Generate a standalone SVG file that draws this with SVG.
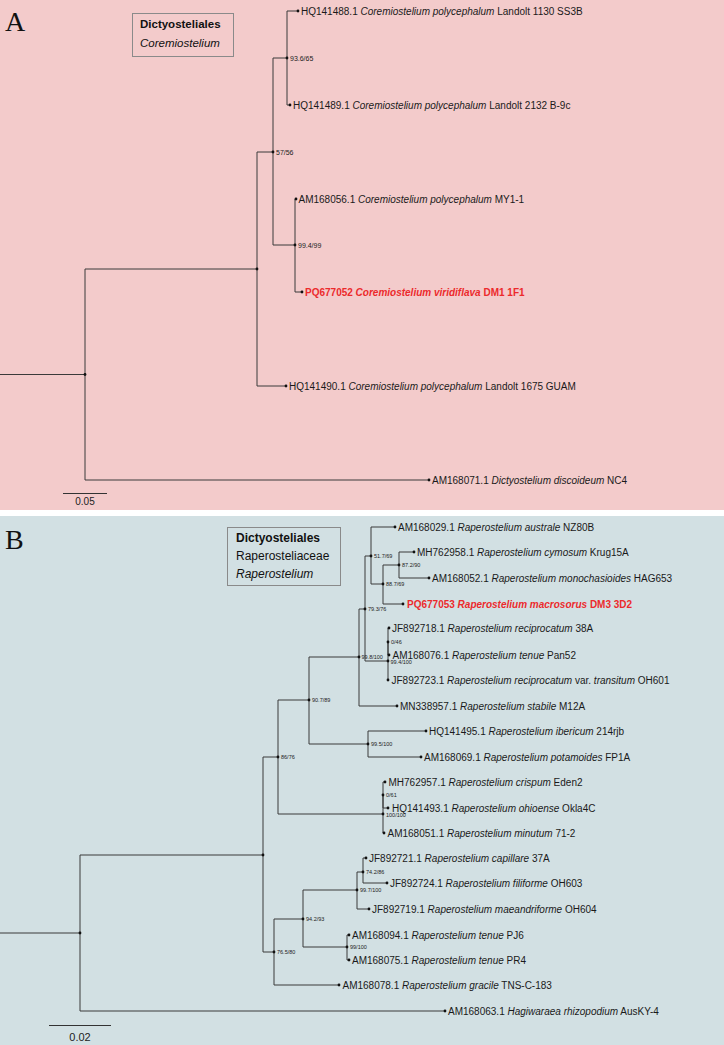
<svg xmlns="http://www.w3.org/2000/svg" width="724" height="1045" viewBox="0 0 724 1045">
<style>
.conn path{fill:none;stroke:#3a3a3a;stroke-width:1}
.dot{fill:#111}
.tip{font-family:"Liberation Sans",Arial,sans-serif;font-size:10px;fill:#1a1a1a}
.red{fill:#ec2a2c;font-weight:bold}
.bs{font-family:"Liberation Sans",Arial,sans-serif;font-size:7px;fill:#222}
.bsb{font-family:"Liberation Sans",Arial,sans-serif;font-size:5.5px;fill:#222}
.it{font-style:italic}
.panel{font-family:"Liberation Serif","Times New Roman",serif;font-size:28px;fill:#111}
.box{stroke:#8a8a8a;stroke-width:1}
.boxt{font-family:"Liberation Sans",Arial,sans-serif;fill:#111}
.scale{fill:none;stroke:#333;stroke-width:1}
.sct{font-family:"Liberation Sans",Arial,sans-serif;fill:#222;text-anchor:middle}
</style>
<rect x="0" y="0" width="724" height="510" fill="#f3cbcb"/>
<rect x="0" y="510" width="724" height="6" fill="#ffffff"/>
<rect x="0" y="516" width="724" height="529" fill="#d2e0e3"/>

<!-- Panel A -->
<text class="panel" x="5" y="31">A</text>
<g id="legendA">
<rect class="box" x="132.5" y="13.5" width="101" height="43" fill="#f3cbcb"/>
<text class="boxt" x="140" y="28" font-size="11.5" font-weight="bold">Dictyosteliales</text>
<text class="boxt it" x="140" y="47" font-size="11.5">Coremiostelium</text>
</g>
<g id="connectorsA" class="conn">
<path d="M0 374.5 H85"/>
<path d="M85 374.5 V269 H257"/>
<path d="M85 374.5 V480 H429"/>
<path d="M257 269 V152 H273"/>
<path d="M257 269 V386 H286"/>
<path d="M273 152 V58 H287"/>
<path d="M273 152 V245 H295"/>
<path d="M287 58 V11 H298"/>
<path d="M287 58 V105 H290"/>
<path d="M295 245 V199 H296"/>
<path d="M295 245 V292 H302"/>
</g>
<g id="A_root"><circle class="dot" cx="85" cy="374.5" r="1.4"/></g>
<g id="A_n1"><circle class="dot" cx="257" cy="269" r="1.4"/></g>
<g id="A_n2"><circle class="dot" cx="273" cy="152" r="1.4"/><text class="bs" x="276" y="154.5">57/56</text></g>
<g id="A_n3"><circle class="dot" cx="287" cy="58" r="1.4"/><text class="bs" x="290" y="60.5">93.6/65</text></g>
<g id="A_n4"><circle class="dot" cx="295" cy="245" r="1.4"/><text class="bs" x="298" y="247.5">99.4/99</text></g>
<g id="A_HQ141488"><circle class="dot" cx="298" cy="11" r="1.4"/><text class="tip" x="301" y="14.5">HQ141488.1 <tspan class="it">Coremiostelium polycephalum</tspan> Landolt 1130 SS3B</text></g>
<g id="A_HQ141489"><circle class="dot" cx="290" cy="105" r="1.4"/><text class="tip" x="293" y="108.5">HQ141489.1 <tspan class="it">Coremiostelium polycephalum</tspan> Landolt 2132 B-9c</text></g>
<g id="A_AM168056"><circle class="dot" cx="296" cy="199" r="1.4"/><text class="tip" x="298.5" y="202.5">AM168056.1 <tspan class="it">Coremiostelium polycephalum</tspan> MY1-1</text></g>
<g id="A_PQ677052"><circle class="dot" cx="302" cy="292" r="1.4"/><text class="tip red" x="305" y="295.5">PQ677052 <tspan class="it">Coremiostelium viridiflava</tspan> DM1 1F1</text></g>
<g id="A_HQ141490"><circle class="dot" cx="286" cy="386" r="1.4"/><text class="tip" x="289" y="389.5">HQ141490.1 <tspan class="it">Coremiostelium polycephalum</tspan> Landolt 1675 GUAM</text></g>
<g id="A_AM168071"><circle class="dot" cx="429" cy="480" r="1.4"/><text class="tip" x="432" y="483.5">AM168071.1 <tspan class="it">Dictyostelium discoideum</tspan> NC4</text></g>
<g id="A_scale">
<path class="scale" d="M63 493.5 H107"/>
<text class="sct" x="85" y="505" font-size="10">0.05</text>
</g>

<!-- Panel B -->
<text class="panel" x="5" y="549">B</text>
<g id="legendB">
<rect class="box" x="227.5" y="527.5" width="113" height="58" fill="#d2e0e3"/>
<text class="boxt" x="236" y="542" font-size="12" font-weight="bold">Dictyosteliales</text>
<text class="boxt" x="236" y="560" font-size="12">Raperosteliaceae</text>
<text class="boxt it" x="236" y="578" font-size="12">Raperostelium</text>
</g>
<g id="connectorsB" class="conn">
<path d="M0 933 H80"/>
<path d="M80 933 V855 H263"/>
<path d="M80 933 V1011 H445"/>
<path d="M263 855 V757 H278"/>
<path d="M263 855 V952 H274"/>
<path d="M278 757 V700 H309"/>
<path d="M278 757 V814 H383"/>
<path d="M309 700 V657 H359"/>
<path d="M309 700 V744 H368"/>
<path d="M359 657 V609 H365"/>
<path d="M359 657 V706 H397"/>
<path d="M365 609 V556 H371"/>
<path d="M365 609 V661 H388"/>
<path d="M371 556 V527 H395"/>
<path d="M371 556 V584 H383"/>
<path d="M383 584 V565 H399"/>
<path d="M383 584 V604 H403"/>
<path d="M399 565 V552 H414"/>
<path d="M399 565 V578 H429"/>
<path d="M388 661 V642"/>
<path d="M388 661 V680"/>
<path d="M388 642 V628 H389"/>
<path d="M388 642 V655 H389"/>
<path d="M368 744 V731 H426"/>
<path d="M368 744 V757 H421"/>
<path d="M383 814 V795"/>
<path d="M383 814 V833 H384"/>
<path d="M383 795 V782 H385"/>
<path d="M383 795 V808 H388"/>
<path d="M274 952 V919 H303"/>
<path d="M274 952 V985 H339"/>
<path d="M303 919 V890 H357"/>
<path d="M303 919 V947 H347"/>
<path d="M357 890 V872 H363"/>
<path d="M357 890 V909 H369"/>
<path d="M363 872 V858 H366"/>
<path d="M363 872 V883 H387"/>
<path d="M347 947 V935 H349"/>
<path d="M347 947 V960 H349"/>
</g>
<g id="B_root"><circle class="dot" cx="80" cy="933" r="1.4"/></g>
<g id="B_n1"><circle class="dot" cx="263" cy="855" r="1.4"/></g>
<g id="B_n86_76"><circle class="dot" cx="278" cy="757" r="1.4"/><text class="bsb" x="281" y="759">86/76</text></g>
<g id="B_n90_7"><circle class="dot" cx="309" cy="700" r="1.4"/><text class="bsb" x="312" y="702">90.7/89</text></g>
<g id="B_n99_8"><circle class="dot" cx="359" cy="657" r="1.4"/><text class="bsb" x="361.5" y="659">99.8/100</text></g>
<g id="B_n79_3"><circle class="dot" cx="365" cy="609" r="1.4"/><text class="bsb" x="368" y="611">79.3/76</text></g>
<g id="B_n51_7"><circle class="dot" cx="371" cy="556" r="1.4"/><text class="bsb" x="374" y="558">51.7/69</text></g>
<g id="B_n88_7"><circle class="dot" cx="383" cy="584" r="1.4"/><text class="bsb" x="386" y="586">88.7/69</text></g>
<g id="B_n87_2"><circle class="dot" cx="399" cy="565" r="1.4"/><text class="bsb" x="402" y="567">87.2/90</text></g>
<g id="B_n99_4"><circle class="dot" cx="388" cy="661" r="1.4"/><text class="bsb" x="390.5" y="664">99.4/100</text></g>
<g id="B_n0_46"><circle class="dot" cx="388" cy="642" r="1.4"/><text class="bsb" x="391" y="644">0/46</text></g>
<g id="B_n99_5"><circle class="dot" cx="368" cy="744" r="1.4"/><text class="bsb" x="371" y="746">99.5/100</text></g>
<g id="B_n100_100"><circle class="dot" cx="383" cy="814" r="1.4"/><text class="bsb" x="386" y="817">100/100</text></g>
<g id="B_n0_61"><circle class="dot" cx="383" cy="795" r="1.4"/><text class="bsb" x="386" y="797">0/61</text></g>
<g id="B_n76_5"><circle class="dot" cx="274" cy="952" r="1.4"/><text class="bsb" x="277" y="954">76.5/80</text></g>
<g id="B_n94_2"><circle class="dot" cx="303" cy="919" r="1.4"/><text class="bsb" x="306" y="921">94.2/93</text></g>
<g id="B_n99_7"><circle class="dot" cx="357" cy="890" r="1.4"/><text class="bsb" x="360" y="892">99.7/100</text></g>
<g id="B_n74_2"><circle class="dot" cx="363" cy="872" r="1.4"/><text class="bsb" x="366" y="874">74.2/86</text></g>
<g id="B_n99_100"><circle class="dot" cx="347" cy="947" r="1.4"/><text class="bsb" x="350" y="949">99/100</text></g>

<g id="B_AM168029"><circle class="dot" cx="395" cy="527" r="1.4"/><text class="tip" x="398" y="530.5">AM168029.1 <tspan class="it">Raperostelium australe</tspan> NZ80B</text></g>
<g id="B_MH762958"><circle class="dot" cx="414" cy="552" r="1.4"/><text class="tip" x="417" y="555.5">MH762958.1 <tspan class="it">Raperostelium cymosum</tspan> Krug15A</text></g>
<g id="B_AM168052"><circle class="dot" cx="429" cy="578" r="1.4"/><text class="tip" x="432" y="581.5">AM168052.1 <tspan class="it">Raperostelium monochasioides</tspan> HAG653</text></g>
<g id="B_PQ677053"><circle class="dot" cx="403" cy="604" r="1.4"/><text class="tip red" x="407" y="607.5">PQ677053 <tspan class="it">Raperostelium macrosorus</tspan> DM3 3D2</text></g>
<g id="B_JF892718"><circle class="dot" cx="389" cy="628" r="1.4"/><text class="tip" x="392" y="631.5">JF892718.1 <tspan class="it">Raperostelium reciprocatum</tspan> 38A</text></g>
<g id="B_AM168076"><circle class="dot" cx="389" cy="655" r="1.4"/><text class="tip" x="392.5" y="658.5">AM168076.1 <tspan class="it">Raperostelium tenue</tspan> Pan52</text></g>
<g id="B_JF892723"><circle class="dot" cx="388" cy="680" r="1.4"/><text class="tip" x="391.5" y="683.5">JF892723.1 <tspan class="it">Raperostelium reciprocatum</tspan> var. <tspan class="it">transitum</tspan> OH601</text></g>
<g id="B_MN338957"><circle class="dot" cx="397" cy="706" r="1.4"/><text class="tip" x="400" y="709.5">MN338957.1 <tspan class="it">Raperostelium stabile</tspan> M12A</text></g>
<g id="B_HQ141495"><circle class="dot" cx="426" cy="731" r="1.4"/><text class="tip" x="429" y="734.5">HQ141495.1 <tspan class="it">Raperostelium ibericum</tspan> 214rjb</text></g>
<g id="B_AM168069"><circle class="dot" cx="421" cy="757" r="1.4"/><text class="tip" x="424" y="760.5">AM168069.1 <tspan class="it">Raperostelium potamoides</tspan> FP1A</text></g>
<g id="B_MH762957"><circle class="dot" cx="385" cy="782" r="1.4"/><text class="tip" x="388.5" y="785.5">MH762957.1 <tspan class="it">Raperostelium crispum</tspan> Eden2</text></g>
<g id="B_HQ141493"><circle class="dot" cx="388" cy="808" r="1.4"/><text class="tip" x="392" y="811.5">HQ141493.1 <tspan class="it">Raperostelium ohioense</tspan> Okla4C</text></g>
<g id="B_AM168051"><circle class="dot" cx="384" cy="833" r="1.4"/><text class="tip" x="387.5" y="836.5">AM168051.1 <tspan class="it">Raperostelium minutum</tspan> 71-2</text></g>
<g id="B_JF892721"><circle class="dot" cx="366" cy="858" r="1.4"/><text class="tip" x="369" y="861.5">JF892721.1 <tspan class="it">Raperostelium capillare</tspan> 37A</text></g>
<g id="B_JF892724"><circle class="dot" cx="387" cy="883" r="1.4"/><text class="tip" x="390" y="886.5">JF892724.1 <tspan class="it">Raperostelium filiforme</tspan> OH603</text></g>
<g id="B_JF892719"><circle class="dot" cx="369" cy="909" r="1.4"/><text class="tip" x="372" y="912.5">JF892719.1 <tspan class="it">Raperostelium maeandriforme</tspan> OH604</text></g>
<g id="B_AM168094"><circle class="dot" cx="349" cy="935" r="1.4"/><text class="tip" x="352" y="938.5">AM168094.1 <tspan class="it">Raperostelium tenue</tspan> PJ6</text></g>
<g id="B_AM168075"><circle class="dot" cx="349" cy="960" r="1.4"/><text class="tip" x="352" y="963.5">AM168075.1 <tspan class="it">Raperostelium tenue</tspan> PR4</text></g>
<g id="B_AM168078"><circle class="dot" cx="339" cy="985" r="1.4"/><text class="tip" x="342.5" y="988.5">AM168078.1 <tspan class="it">Raperostelium gracile</tspan> TNS-C-183</text></g>
<g id="B_AM168063"><circle class="dot" cx="445" cy="1011" r="1.4"/><text class="tip" x="448" y="1014.5">AM168063.1 <tspan class="it">Hagiwaraea rhizopodium</tspan> AusKY-4</text></g>
<g id="B_scale">
<path class="scale" d="M49 1025.5 H111"/>
<text class="sct" x="80" y="1041" font-size="11">0.02</text>
</g>
</svg>
